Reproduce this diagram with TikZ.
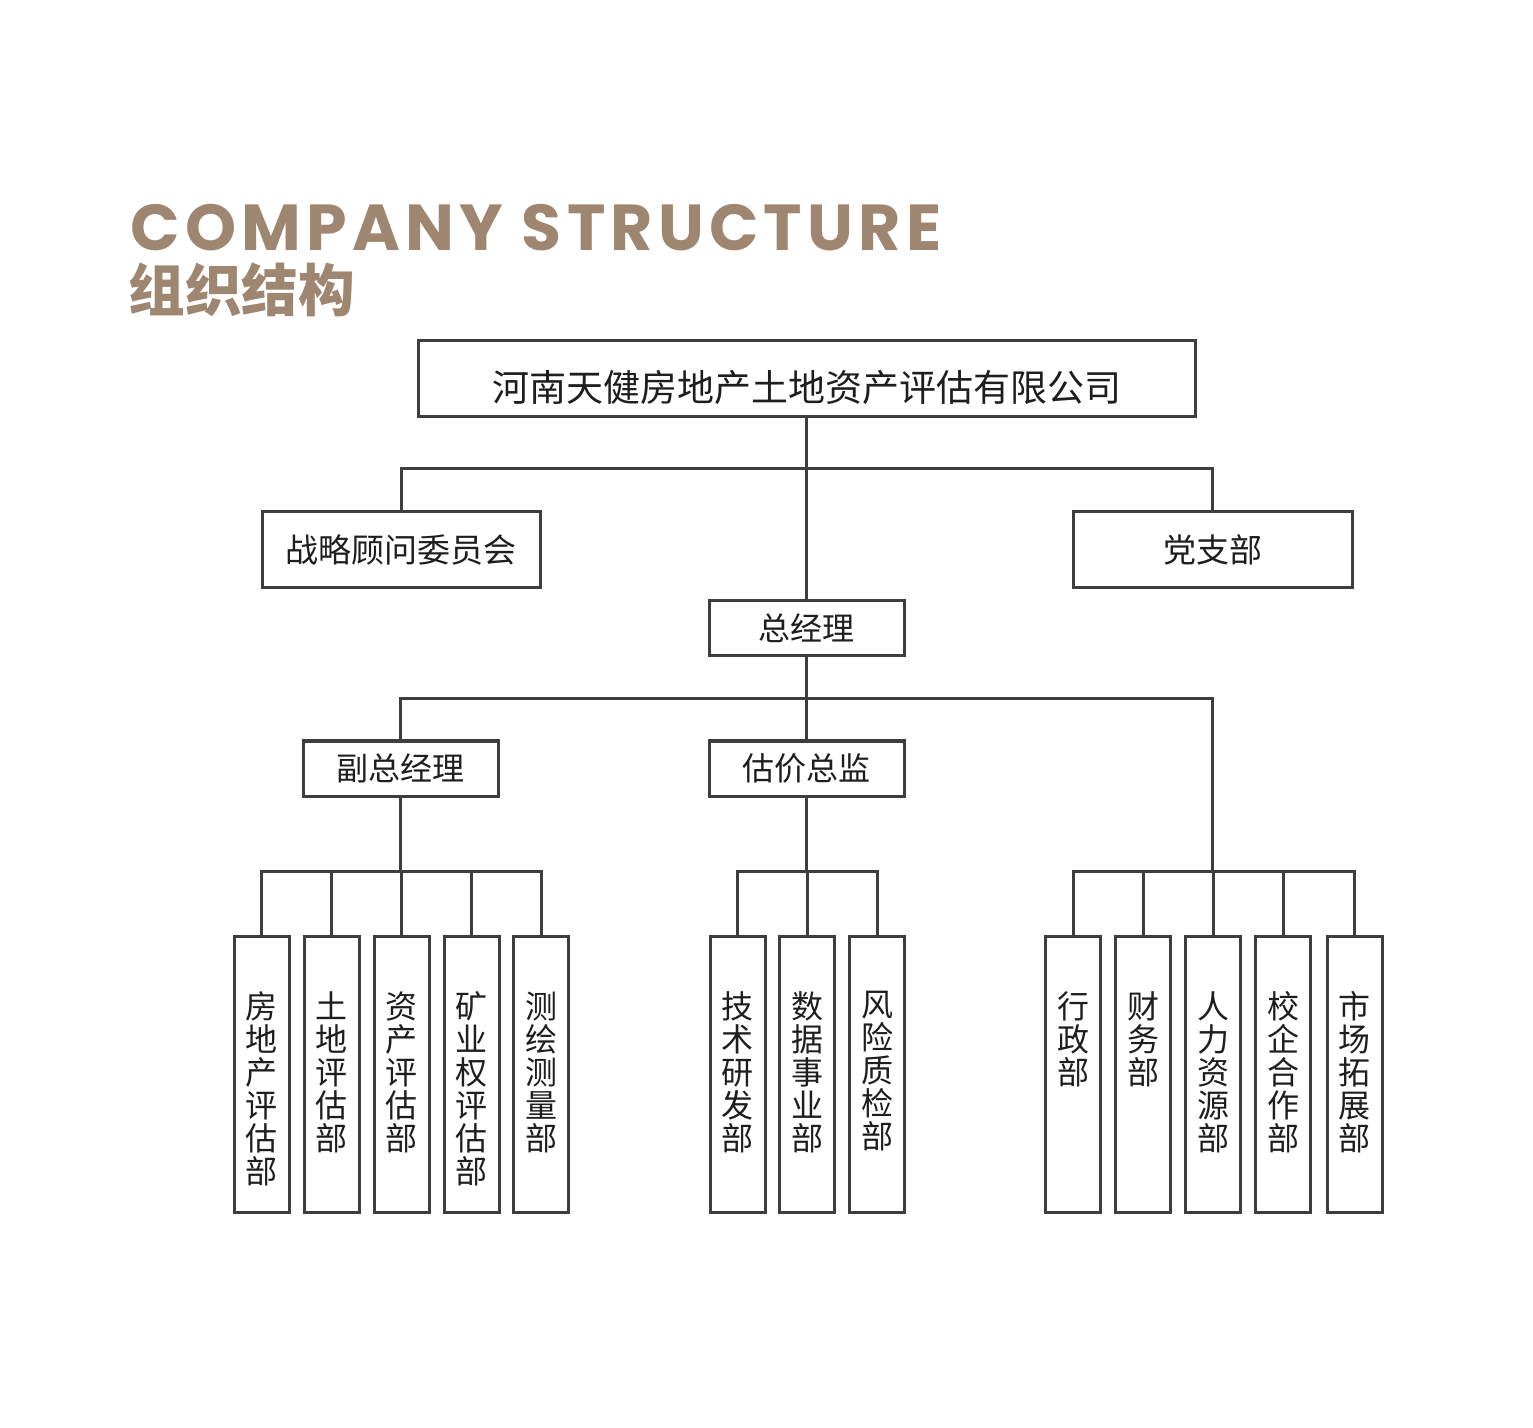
\documentclass[tikz,border=0pt]{standalone}
\usepackage{fontspec}
\usepackage{xcolor}
\usepackage{tikz}
\setmainfont{Noto Sans CJK SC}
\newfontfamily\titlefont[LetterSpace=8]{Poppins}
\definecolor{linegray}{RGB}{62,62,62}
\definecolor{inkgray}{RGB}{30,30,30}
\definecolor{titlebrown}{RGB}{158,134,113}
\newcommand{\vlabel}[1]{\parbox[c][138pt][t]{27.5pt}{\vspace*{27.5pt}\centering #1\par}}

\begin{document}
\begin{tikzpicture}[x=0.5pt,y=-0.5pt,
    box/.style={draw=linegray,line width=1.5pt,fill=white,inner sep=0pt,text=inkgray},
    head/.style={box,minimum height=38pt,font=\fontsize{16.5pt}{18pt}\selectfont},
    post/.style={box,minimum width=97.5pt,minimum height=27.5pt,font=\fontsize{16pt}{18pt}\selectfont},
    dept/.style={box,anchor=north,font=\fontsize{16pt}{16.5pt}\selectfont},
    link/.style={draw=linegray,line width=1.5pt}]
    \useasboundingbox (0,0) rectangle (1533,1428);
    \node [anchor=west,inner sep=0pt,text height=23pt,text depth=0pt,text=titlebrown,font=\titlefont\bfseries\fontsize{32.5pt}{36pt}\selectfont] (t) at (130,227.5) {COMPANY STRUCTURE};
    \node [anchor=west,inner sep=0pt,text height=23.5pt,text depth=3pt,text=titlebrown,font=\bfseries\fontsize{28.3pt}{30pt}\selectfont] (u) at (128,291) {组织结构};
    \node [head,minimum width=388.5pt,font=\fontsize{18.5pt}{20pt}\selectfont,text height=25pt,text depth=2pt] (a) at (806.5,379) {河南天健房地产土地资产评估有限公司};
    \node [head,minimum width=139pt] (b) at (401,550) {战略顾问委员会};
    \node [head,minimum width=139.5pt] (c) at (1212.5,550) {党支部};
    \node [post] (d) at (806.5,628.5) {总经理};
    \node [post] (e) at (400.5,768.5) {副总经理};
    \node [post] (f) at (806.5,768.5) {估价总监};
    \node [dept] (g) at (261.5,935) {\vlabel{房\\地\\产\\评\\估\\部}};
    \node [dept] (h) at (331.5,935) {\vlabel{土\\地\\评\\估\\部}};
    \node [dept] (i) at (401.5,935) {\vlabel{资\\产\\评\\估\\部}};
    \node [dept] (j) at (471.5,935) {\vlabel{矿\\业\\权\\评\\估\\部}};
    \node [dept] (k) at (541.0,935) {\vlabel{测\\绘\\测\\量\\部}};
    \node [dept] (l) at (737.5,935) {\vlabel{技\\术\\研\\发\\部}};
    \node [dept] (m) at (807.0,935) {\vlabel{数\\据\\事\\业\\部}};
    \node [dept] (n) at (877.0,935) {\vlabel{风\\险\\质\\检\\部}};
    \node [dept] (o) at (1073.0,935) {\vlabel{行\\政\\部}};
    \node [dept] (v) at (1143.0,935) {\vlabel{财\\务\\部}};
    \node [dept] (x) at (1213.0,935) {\vlabel{人\\力\\资\\源\\部}};
    \node [dept] (y) at (1283.0,935) {\vlabel{校\\企\\合\\作\\部}};
    \node [dept] (z) at (1354.5,935) {\vlabel{市\\场\\拓\\展\\部}};
    \coordinate (p) at (806.5,469);
    \coordinate (q) at (806.5,699);
    \coordinate (r) at (400.5,871);
    \coordinate (s) at (806.5,871);
    \coordinate (w) at (1212.5,871);
    \draw [link] (a) to (d);
    \draw [link] (b) |- (p);
    \draw [link] (c) |- (p);
    \draw [link] (d) to (f);
    \draw [link] (e) |- (q);
    \draw [link] (w) |- (q);
    \draw [link] (e) to (r);
    \draw [link] (f) to (s);
    \foreach \n in {g,h,i,j,k} \draw [link] (\n) |- (r);
    \foreach \n in {l,m,n} \draw [link] (\n) |- (s);
    \foreach \n in {o,v,x,y,z} \draw [link] (\n) |- (w);
  \end{tikzpicture}
\end{document}
